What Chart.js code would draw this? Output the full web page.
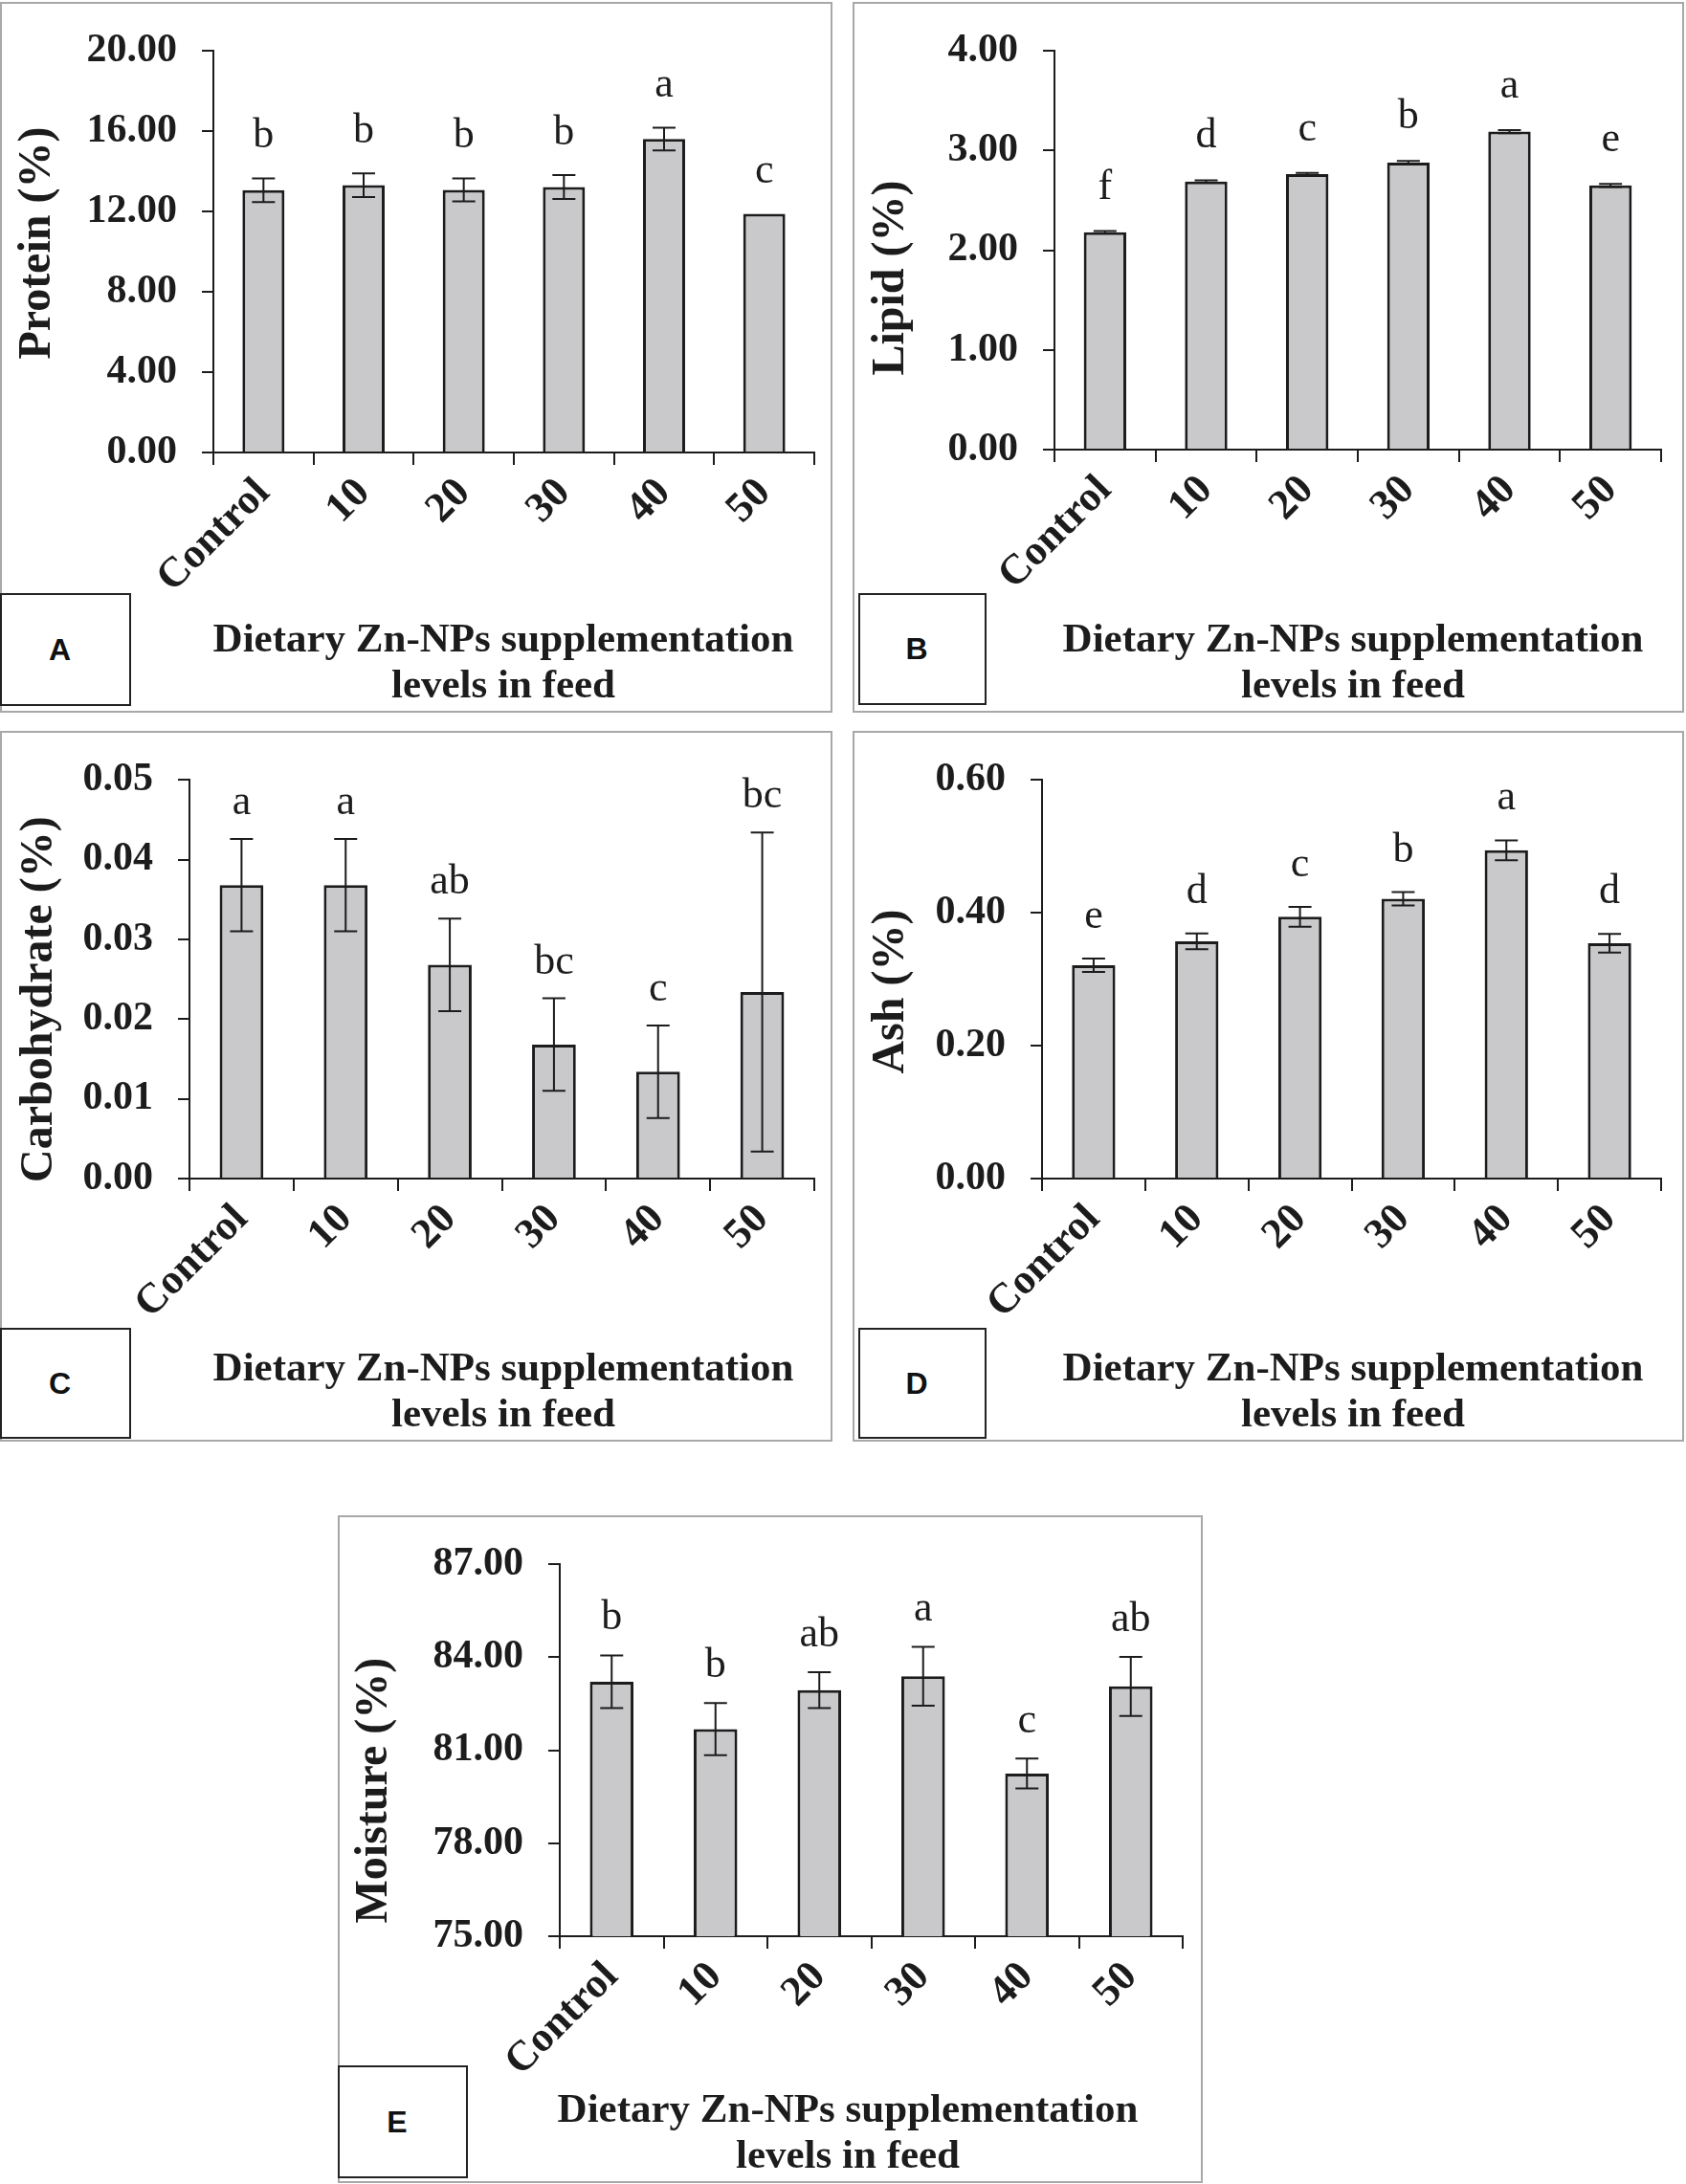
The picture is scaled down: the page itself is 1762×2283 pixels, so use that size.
<!DOCTYPE html>
<html>
<head>
<meta charset="utf-8">
<script src="https://cdn.jsdelivr.net/npm/chart.js@4.4.1/dist/chart.umd.min.js"></script>
<style>
  body { margin: 0; background: #fff; }
  #page { position: relative; width: 1762px; height: 2283px; overflow: hidden; }
  .frame { position: absolute; border: 2px solid #a8a8a8; box-sizing: border-box; pointer-events: none; }
  .chartbox { position: absolute; }
  .tag { position: absolute; border: 2px solid #222; box-sizing: border-box; background: #fff;
         font: bold 32px "Liberation Sans", Arial, sans-serif; color: #111;
         display: flex; align-items: center; justify-content: center; padding-right: 12px; }
</style>
</head>
<body>
<div id="page"></div>
<script>
// categories (Zn-NPs level)
var categories = ["Control", "10", "20", "30", "40", "50"];

// A - protein
var proteinMean = [13.06, 13.31, 13.08, 13.22, 15.61, 11.89];
var proteinSd   = [0.59, 0.59, 0.57, 0.60, 0.57, 0];
var proteinSig  = ["b", "b", "b", "b", "a", "c"];

// B - lipid
var lipidMean = [2.18, 2.69, 2.765, 2.88, 3.19, 2.65];
var lipidSd   = [0.012, 0.012, 0.01, 0.015, 0.015, 0.015];
var lipidSig  = ["f", "d", "c", "b", "a", "e"];

// C - carbohydrate
var carbMean = [0.0368, 0.0368, 0.0268, 0.0168, 0.0134, 0.0234];
var carbSd   = [0.0058, 0.0058, 0.0058, 0.0058, 0.0058, 0.0200];
var carbSig  = ["a", "a", "ab", "bc", "c", "bc"];

// D - ash
var ashMean = [0.321, 0.357, 0.394, 0.421, 0.494, 0.354];
var ashSd   = [0.010, 0.012, 0.015, 0.010, 0.015, 0.014];
var ashSig  = ["e", "d", "c", "b", "a", "d"];

// E - moisture
var moistMean = [83.21, 81.68, 82.94, 83.39, 80.25, 83.06];
var moistSd   = [0.85, 0.84, 0.58, 0.95, 0.48, 0.95];
var moistSig  = ["b", "b", "ab", "a", "c", "ab"];

// y axis ranges [min, max, step]
var proteinAxis = [0, 20, 4];
var lipidAxis   = [0, 4, 1];
var carbAxis    = [0, 0.05, 0.01];
var ashAxis     = [0, 0.6, 0.2];
var moistAxis   = [75, 87, 3];

var xTitle = ["Dietary Zn-NPs supplementation", "levels in feed"];

var ink = "#1c1c1c";
var serif = '"Liberation Serif", "Times New Roman", serif';

// error bars + significance letters
var errorBarPlugin = {
    id: "errorBars",
    afterDatasetsDraw: function (chart, args, opts) {
        var ctx = chart.ctx;
        var meta = chart.getDatasetMeta(0);
        var y = chart.scales.y;
        ctx.save();
        ctx.strokeStyle = ink;
        ctx.lineWidth = 2;
        meta.data.forEach(function (bar, i) {
            var m = opts.mean[i], s = opts.sd[i];
            var top = y.getPixelForValue(m + s);
            var bot = y.getPixelForValue(m - s);
            if (s > 0) {
                ctx.beginPath();
                ctx.moveTo(bar.x, top); ctx.lineTo(bar.x, bot);
                ctx.moveTo(bar.x - 12, top); ctx.lineTo(bar.x + 12, top);
                ctx.moveTo(bar.x - 12, bot); ctx.lineTo(bar.x + 12, bot);
                ctx.stroke();
            }
            ctx.fillStyle = ink;
            ctx.font = "44px " + serif;
            ctx.textAlign = "center";
            ctx.textBaseline = "alphabetic";
            ctx.fillText(opts.letters[i], bar.x, top - opts.gap);
        });
        ctx.restore();
    }
};

// axis titles placed like the original figure
var axisTitlePlugin = {
    id: "axisTitles",
    afterDraw: function (chart, args, o) {
        var ctx = chart.ctx;
        var ca = chart.chartArea;
        ctx.save();
        ctx.fillStyle = ink;
        ctx.textAlign = "center";

        ctx.save();
        ctx.font = "bold 48px " + serif;
        ctx.textBaseline = "middle";
        ctx.translate(o.yX, (ca.top + ca.bottom) / 2 + o.yShift);
        ctx.rotate(-Math.PI / 2);
        ctx.fillText(o.yText, 0, 0);
        ctx.restore();

        ctx.font = "bold 43px " + serif;
        ctx.textBaseline = "alphabetic";
        var n = o.xText.length;
        o.xText.forEach(function (line, i) {
            ctx.fillText(line, o.xCenter, chart.height - 16 - 48 * (n - 1 - i));
        });
        ctx.restore();
    }
};

function makePanel(name, rect, area, mean, sd, letters, yTitle, axis, gap, tag, titlePos) {
    var page = document.getElementById("page");
    var box = document.createElement("div");
    box.className = "chartbox";
    box.style.left = rect[0] + "px"; box.style.top = rect[1] + "px";
    box.style.width = rect[2] + "px"; box.style.height = rect[3] + "px";
    var cv = document.createElement("canvas");
    cv.width = rect[2]; cv.height = rect[3];
    cv.style.width = rect[2] + "px"; cv.style.height = rect[3] + "px";
    box.appendChild(cv);
    page.appendChild(box);

    var frame = document.createElement("div");
    frame.className = "frame";
    frame.style.left = rect[0] + "px"; frame.style.top = rect[1] + "px";
    frame.style.width = rect[2] + "px"; frame.style.height = rect[3] + "px";
    page.appendChild(frame);

    var t = document.createElement("div");
    t.className = "tag";
    t.style.left = tag[0] + "px"; t.style.top = tag[1] + "px";
    t.style.width = tag[2] + "px"; t.style.height = tag[3] + "px";
    t.textContent = name;
    page.appendChild(t);

    var yLeft = area[0] - rect[0];
    var padTop = area[1] - rect[1];
    var padRight = rect[0] + rect[2] - area[2];
    var xHeight = rect[1] + rect[3] - area[3];

    new Chart(cv.getContext("2d"), {
        type: "bar",
        data: {
            labels: categories,
            datasets: [{
                data: mean,
                backgroundColor: "#c9c9cb",
                borderColor: ink,
                borderWidth: 3,
                barPercentage: 0.42,
                categoryPercentage: 1
            }]
        },
        options: {
            responsive: false,
            animation: false,
            devicePixelRatio: 1,
            layout: { padding: { left: 0, top: padTop, right: padRight, bottom: 0 } },
            plugins: {
                legend: { display: false },
                tooltip: { enabled: false },
                errorBars: { mean: mean, sd: sd, letters: letters, gap: gap },
                axisTitles: {
                    yText: yTitle, yX: titlePos[0], yShift: titlePos[1],
                    xText: xTitle, xCenter: titlePos[2] - rect[0]
                }
            },
            scales: {
                x: {
                    grid: { drawOnChartArea: false, tickLength: 13, color: ink, lineWidth: 2, offset: true },
                    border: { color: ink, width: 2 },
                    ticks: {
                        autoSkip: false, minRotation: 45, maxRotation: 45, padding: 4, color: ink,
                        font: { family: serif, size: 44, weight: "bold" }
                    },
                    afterFit: function (s) { s.height = xHeight; }
                },
                y: {
                    min: axis[0], max: axis[1],
                    grid: { drawOnChartArea: false, tickLength: 12, color: ink, lineWidth: 2 },
                    border: { color: ink, width: 2 },
                    ticks: {
                        stepSize: axis[2], padding: 26, color: ink,
                        font: { family: serif, size: 42, weight: "bold" },
                        callback: function (v) { return Number(v).toFixed(2); }
                    },
                    afterFit: function (s) { s.width = yLeft; }
                }
            }
        },
        plugins: [errorBarPlugin, axisTitlePlugin]
    });
}

// panel rect [x, y, w, h], plot area [left, top, right, bottom], tag box [x, y, w, h],
// title placement [y-title x, y-title shift, x-title centre]
makePanel("A", [0, 2, 870, 743], [223, 52, 851, 473], proteinMean, proteinSd, proteinSig,
    "Protein (%)", proteinAxis, 32, [0, 620, 137, 118], [40, -9, 526]);
makePanel("B", [891, 2, 869, 743], [1102, 49, 1736, 470], lipidMean, lipidSd, lipidSig,
    "Lipid (%)", lipidAxis, 34, [897, 620, 134, 117], [41, 29, 1414]);
makePanel("C", [0, 764, 870, 743], [198, 811, 851, 1232], carbMean, carbSd, carbSig,
    "Carbohydrate (%)", carbAxis, 26, [0, 1388, 137, 116], [42, 21, 526]);
makePanel("D", [891, 764, 869, 743], [1089, 811, 1736, 1232], ashMean, ashSd, ashSig,
    "Ash (%)", ashAxis, 32, [897, 1388, 134, 116], [41, 13, 1414]);
makePanel("E", [353, 1584, 904, 698], [585, 1629, 1236, 2024], moistMean, moistSd, moistSig,
    "Moisture (%)", moistAxis, 27, [353, 2159, 136, 118], [39, 42, 886]);
</script>
</body>
</html>
